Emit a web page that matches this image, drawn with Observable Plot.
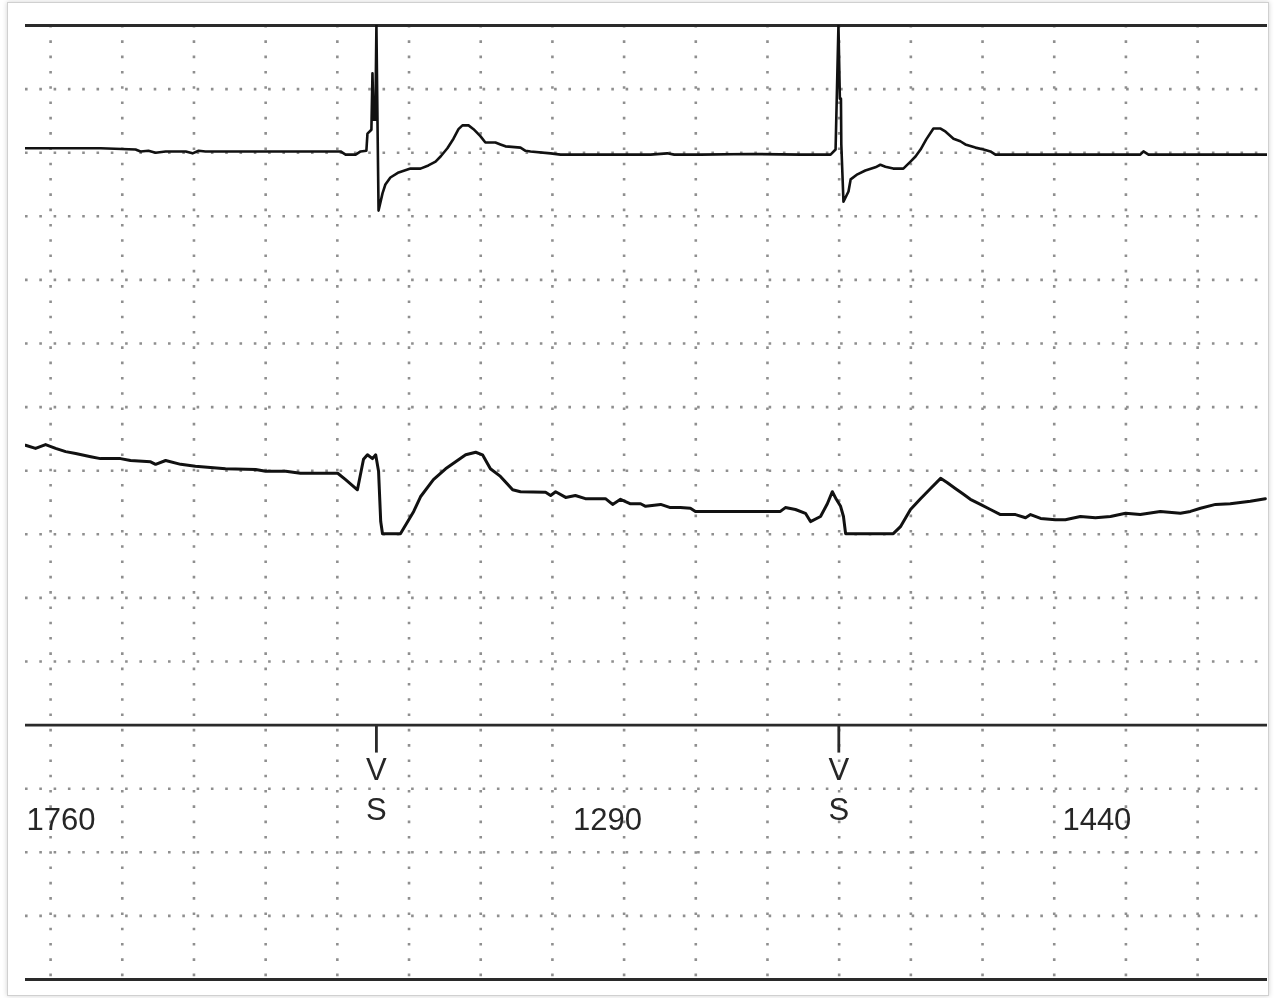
<!DOCTYPE html>
<html><head><meta charset="utf-8">
<script src="https://cdn.jsdelivr.net/npm/d3@7"></script>
<script src="https://cdn.jsdelivr.net/npm/@observablehq/plot@0.6"></script>
<style>
html,body{margin:0;padding:0;background:#fff;}
#frame{position:absolute;left:7px;top:2px;width:1260px;height:992px;border:1px solid #d0d0d0;box-shadow:0 0 5px rgba(0,0,0,0.18);background:#fff;}
#chart{position:absolute;left:0;top:0;}
#chart svg{filter:blur(0.45px);}
</style></head><body>
<div id="frame"></div>
<div id="chart"></div>
<script>
// Lead 1 (surface ECG): [time ms, amplitude in grid units]
const lead1 = [[-70,0.07],[28,0.07],[140,0.07],[237,0.05],[251,0.02],[273,0.03],[293,0.00],[321,0.02],[377,0.02],[396,-0.01],[413,0.03],[432,0.02],[558,0.02],[697,0.02],[809,0.02],[823,-0.03],[851,-0.03],[865,0.02],[881,0.03],[884,0.30],[895,0.36],[898,1.25],[901,0.52],[906,0.52],[909,2.0],[912,0.49],[915,-0.91],[926,-0.64],[934,-0.50],[948,-0.39],[971,-0.31],[1004,-0.25],[1032,-0.25],[1054,-0.20],[1074,-0.14],[1088,-0.06],[1107,0.07],[1124,0.22],[1138,0.37],[1149,0.43],[1166,0.43],[1180,0.37],[1199,0.26],[1213,0.16],[1241,0.16],[1255,0.13],[1269,0.10],[1311,0.08],[1325,0.03],[1339,0.02],[1395,-0.01],[1423,-0.03],[1534,-0.03],[1674,-0.03],[1720,-0.01],[1740,-0.03],[1813,-0.03],[1953,-0.02],[2092,-0.03],[2176,-0.03],[2190,0.05],[2198,2.0],[2202,0.85],[2205,0.85],[2206,0.13],[2212,-0.77],[2226,-0.61],[2232,-0.42],[2251,-0.34],[2273,-0.28],[2301,-0.23],[2315,-0.19],[2329,-0.22],[2351,-0.25],[2379,-0.25],[2399,-0.14],[2413,-0.06],[2427,0.05],[2443,0.21],[2463,0.38],[2483,0.38],[2497,0.33],[2519,0.22],[2538,0.18],[2552,0.13],[2580,0.08],[2603,0.05],[2622,0.02],[2636,-0.03],[2789,-0.03],[2929,-0.03],[3040,-0.03],[3049,0.02],[3063,-0.03],[3208,-0.03],[3395,-0.03]];

// Lead 2 (intracardiac): [time ms, amplitude in grid units]
const lead2 = [[-70,0.90],[-42,0.85],[-14,0.91],[14,0.85],[42,0.80],[70,0.77],[112,0.72],[139,0.69],[195,0.69],[223,0.66],[279,0.64],[293,0.60],[321,0.66],[363,0.60],[404,0.57],[446,0.55],[488,0.53],[572,0.52],[600,0.49],[656,0.49],[697,0.46],[801,0.46],[823,0.36],[856,0.20],[873,0.68],[884,0.75],[898,0.69],[907,0.75],[915,0.49],[921,-0.30],[926,-0.49],[976,-0.49],[1013,-0.14],[1032,0.09],[1068,0.36],[1102,0.53],[1130,0.64],[1158,0.75],[1186,0.79],[1205,0.75],[1227,0.53],[1255,0.41],[1289,0.20],[1311,0.17],[1381,0.16],[1395,0.11],[1409,0.17],[1437,0.08],[1464,0.11],[1492,0.06],[1548,0.06],[1568,-0.03],[1590,0.05],[1618,-0.02],[1646,-0.02],[1660,-0.06],[1702,-0.03],[1729,-0.08],[1757,-0.08],[1785,-0.09],[1799,-0.14],[2036,-0.14],[2050,-0.08],[2078,-0.11],[2106,-0.17],[2120,-0.30],[2148,-0.22],[2167,-0.02],[2181,0.17],[2192,0.05],[2204,-0.06],[2212,-0.22],[2218,-0.49],[2351,-0.49],[2371,-0.38],[2399,-0.11],[2427,0.06],[2455,0.22],[2483,0.38],[2502,0.31],[2524,0.22],[2544,0.14],[2566,0.05],[2594,-0.03],[2622,-0.11],[2650,-0.19],[2692,-0.19],[2720,-0.24],[2734,-0.19],[2762,-0.25],[2803,-0.27],[2831,-0.27],[2873,-0.22],[2915,-0.24],[2957,-0.22],[2999,-0.17],[3040,-0.19],[3096,-0.14],[3152,-0.17],[3180,-0.14],[3208,-0.09],[3250,-0.03],[3291,-0.02],[3347,0.02],[3389,0.06]];

// Pacing events and intervals
const paceTimes = [909, 2199];
const paceLabels = ["V", "S"];
const intervals = [1760, 1290, 1440];

// Grid
const gridTimes = [0,200,400,600,800,1000,1200,1400,1600,1800,2000,2200,2400,2600,2800,3000,3200];
const gridRows = [1,2,3,5,6,7,8,9,10,11,12,13,14];
const solidRows = [0,4,15];

const lead1Offset = 13, lead2Offset = 7.5, markerRow = 4;

const lead1Data = lead1.map(([t,v]) => ({t, y: v + lead1Offset}));
const lead2Data = lead2.map(([t,v]) => ({t, y: v + lead2Offset}));
const intervalLabels = [
  {t: paceTimes[0] - intervals[0] / 2, label: String(intervals[0])},
  {t: (paceTimes[0] + paceTimes[1]) / 2, label: String(intervals[1])},
  {t: paceTimes[1] + intervals[2] / 2, label: String(intervals[2])}
];

const font = "'Liberation Sans', Arial, sans-serif";

const chart = Plot.plot({
  width: 1276,
  height: 998,
  marginLeft: 25,
  marginRight: 9,
  marginTop: 25,
  marginBottom: 19,
  x: {domain: [-70, 3395], axis: null},
  y: {domain: [0, 15], axis: null},
  style: {background: "transparent", fontFamily: font},
  marks: [
    Plot.ruleX(gridTimes, {x: d => d, y1: 15, y2: 0, stroke: "#8f8f8f", strokeWidth: 2.6, strokeDasharray: "2.6 12.7"}),
    Plot.ruleY(gridRows, {y: d => d, stroke: "#8f8f8f", strokeWidth: 2.6, strokeDasharray: "2.6 11.7"}),
    Plot.ruleY(solidRows, {y: d => d, stroke: "#2a2a2a", strokeWidth: 2.8}),
    Plot.line(lead1Data, {x: "t", y: "y", stroke: "#111", strokeWidth: 2.6, clip: true}),
    Plot.line(lead2Data, {x: "t", y: "y", stroke: "#111", strokeWidth: 3, clip: true}),
    Plot.ruleX(paceTimes, {x: d => d, y1: markerRow, y2: markerRow - 0.44, stroke: "#2a2a2a", strokeWidth: 2.8}),
    Plot.text(paceTimes, {x: d => d, y: markerRow, text: () => paceLabels[0], dy: 45, fontSize: 31, fill: "#262626", lineAnchor: "middle"}),
    Plot.text(paceTimes, {x: d => d, y: markerRow, text: () => paceLabels[1], dy: 85, fontSize: 31, fill: "#262626", lineAnchor: "middle"}),
    Plot.text(intervalLabels, {x: "t", y: markerRow, text: "label", dy: 95, fontSize: 31, fill: "#262626", lineAnchor: "middle"})
  ]
});
document.getElementById("chart").appendChild(chart);
</script>
</body></html>
